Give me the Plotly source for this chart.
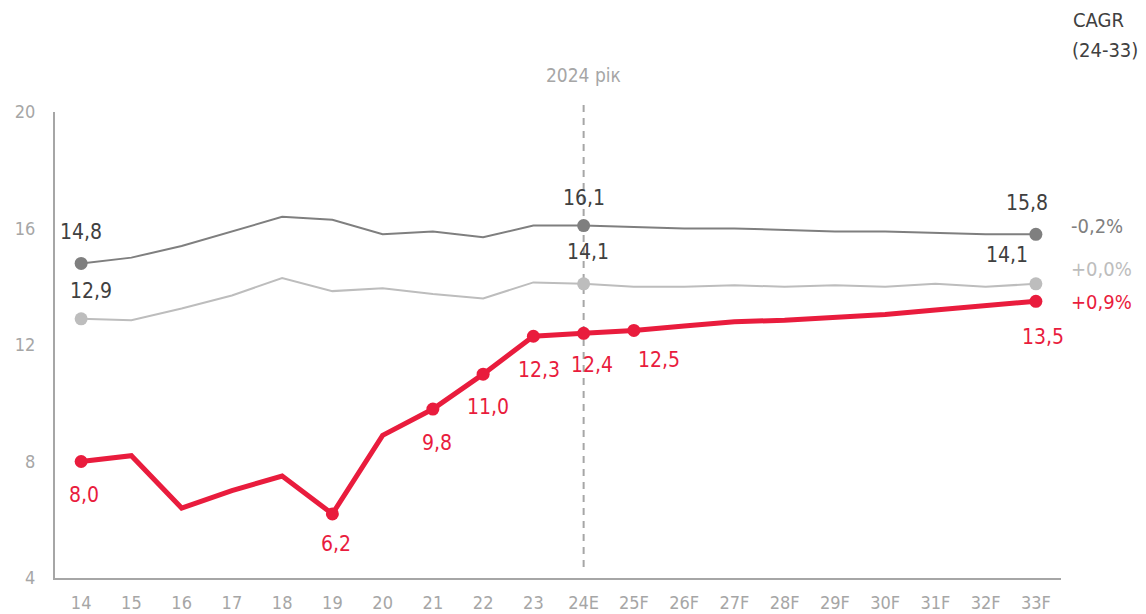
import plotly.graph_objects as go

# categories (years) and three series
years = ["14", "15", "16", "17", "18", "19", "20", "21", "22", "23",
         "24E", "25F", "26F", "27F", "28F", "29F", "30F", "31F", "32F", "33F"]

dark_vals = [14.8, 15.0, 15.4, 15.9, 16.4, 16.3, 15.8, 15.9, 15.7, 16.1,
             16.1, 16.05, 16.0, 16.0, 15.95, 15.9, 15.9, 15.85, 15.8, 15.8]
light_vals = [12.9, 12.85, 13.25, 13.7, 14.3, 13.85, 13.95, 13.75, 13.6, 14.15,
              14.1, 14.0, 14.0, 14.05, 14.0, 14.05, 14.0, 14.1, 14.0, 14.1]
red_vals = [8.0, 8.2, 6.4, 7.0, 7.5, 6.2, 8.9, 9.8, 11.0, 12.3,
            12.4, 12.5, 12.65, 12.8, 12.85, 12.95, 13.05, 13.2, 13.35, 13.5]

dark_marked = ["14", "24E", "33F"]
light_marked = ["14", "24E", "33F"]
red_marked = ["14", "19", "21", "22", "23", "24E", "25F", "33F"]

cagr_labels = ["-0,2%", "+0,0%", "+0,9%"]

RED = "#E91C3D"
DARK = "#7F7F7F"
LIGHT = "#BDBDBD"
TXT = "#404040"
AXIS = "#A6A6A6"
FONT = "DejaVu Sans Condensed, Liberation Sans Narrow, sans-serif"


def fmt(v):
    return f"{v:.1f}".replace(".", ",")


def sizes(marked, s):
    return [s if y in marked else 0 for y in years]


fig = go.Figure()
for vals, col, w, marked in [(dark_vals, DARK, 2, dark_marked),
                             (light_vals, LIGHT, 2, light_marked),
                             (red_vals, RED, 5, red_marked)]:
    fig.add_trace(go.Scatter(x=years, y=vals, mode="lines+markers",
                             line=dict(color=col, width=w),
                             marker=dict(color=col, size=sizes(marked, 13), opacity=1,
                                         line=dict(width=0)),
                             cliponaxis=False))

# value labels: (series, category, colour, xshift, yshift)
label_spec = [
    (dark_vals, "14", TXT, 0, 31),
    (dark_vals, "24E", TXT, 0, 28),
    (dark_vals, "33F", TXT, -9, 31),
    (light_vals, "14", TXT, 10, 28),
    (light_vals, "24E", TXT, 4, 32),
    (light_vals, "33F", TXT, -29, 29),
    (red_vals, "14", RED, 3, -33),
    (red_vals, "19", RED, 4, -30),
    (red_vals, "21", RED, 4, -34),
    (red_vals, "22", RED, 5, -33),
    (red_vals, "23", RED, 6, -34),
    (red_vals, "24E", RED, 8, -32),
    (red_vals, "25F", RED, 25, -30),
    (red_vals, "33F", RED, 7, -36),
]
for vals, cat, col, dx, dy in label_spec:
    i = years.index(cat)
    fig.add_annotation(x=i, y=vals[i], text=fmt(vals[i]), showarrow=False,
                       xshift=dx, yshift=dy, font=dict(size=21, color=col, family=FONT))

# CAGR column
fig.add_annotation(x=1.0, xref="paper", y=dark_vals[-1], text=cagr_labels[0], showarrow=False,
                   xanchor="left", xshift=8, yshift=8, font=dict(size=20, color=DARK, family=FONT))
fig.add_annotation(x=1.0, xref="paper", y=light_vals[-1], text=cagr_labels[1], showarrow=False,
                   xanchor="left", xshift=8, yshift=15, font=dict(size=20, color=LIGHT, family=FONT))
fig.add_annotation(x=1.0, xref="paper", y=red_vals[-1], text=cagr_labels[2], showarrow=False,
                   xanchor="left", xshift=8, yshift=-1, font=dict(size=20, color=RED, family=FONT))
fig.add_annotation(x=1.0, xref="paper", y=1.0, yref="paper", text="CAGR",
                   showarrow=False, xanchor="center", yanchor="middle", xshift=37, yshift=92,
                   font=dict(size=20, color=TXT, family=FONT))
fig.add_annotation(x=1.0, xref="paper", y=1.0, yref="paper", text="(24-33)",
                   showarrow=False, xanchor="center", yanchor="middle", xshift=44, yshift=62,
                   font=dict(size=20, color=TXT, family=FONT))

# 2024 marker line
i24 = years.index("24E")
fig.add_shape(type="line", x0=i24, x1=i24, y0=0.38 / 16, y1=1 + 12 / 466, xref="x", yref="paper",
              line=dict(color=AXIS, width=2, dash="7px,6px"), layer="below")
fig.add_annotation(x=i24, y=1.0, yref="paper", text="2024 рік", showarrow=False,
                   xanchor="center", yanchor="middle", yshift=37,
                   font=dict(size=19, color=AXIS, family=FONT))

fig.update_xaxes(type="category", range=[-0.52, 19.5], showline=True, linecolor=AXIS,
                 linewidth=2, showgrid=False, zeroline=False, ticks="",
                 ticklabelstandoff=7, tickfont=dict(size=18, color=AXIS, family=FONT))
fig.update_yaxes(range=[4, 20], tickvals=[4, 8, 12, 16, 20], showline=True, linecolor=AXIS,
                 linewidth=2, showgrid=False, zeroline=False, ticks="",
                 ticklabelstandoff=14, tickfont=dict(size=18, color=AXIS, family=FONT))

# page body has an 8px margin, so the figure is shifted by 8px
fig.update_layout(width=1138, height=606, showlegend=False,
                  margin=dict(l=47, r=85, t=104, b=36, autoexpand=False),
                  plot_bgcolor="white", paper_bgcolor="white",
                  font=dict(family=FONT))
fig.write_html("out.html")
